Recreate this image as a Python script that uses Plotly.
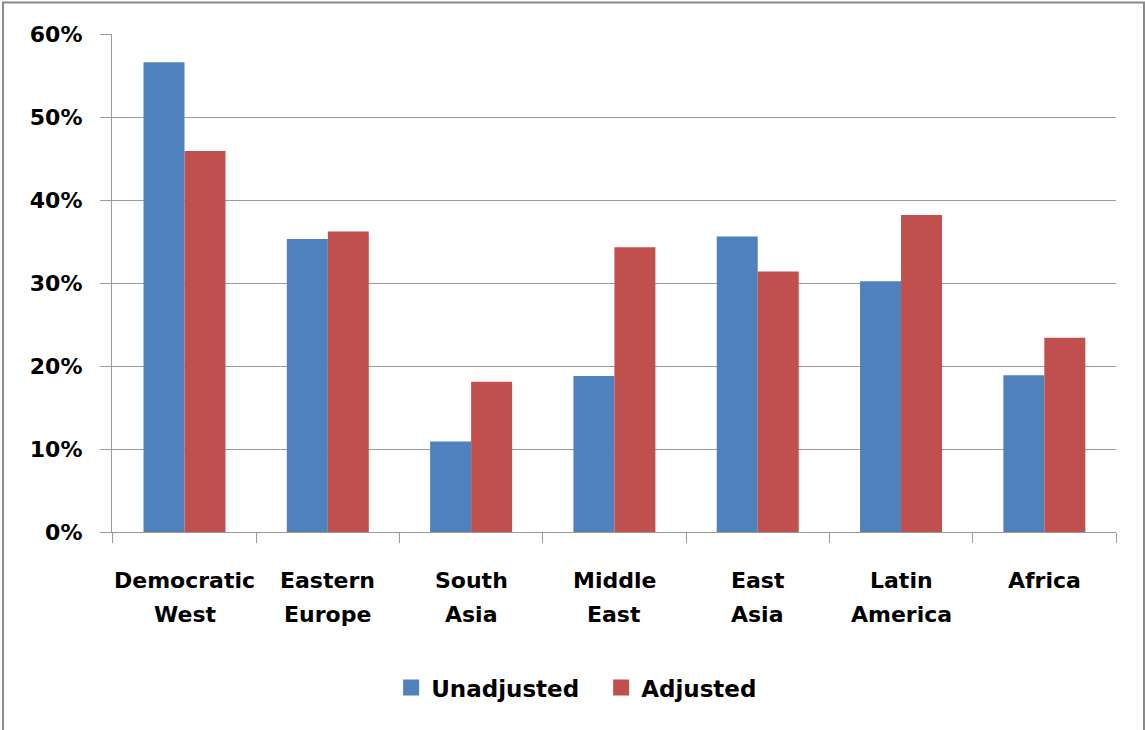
import plotly.graph_objects as go

# Regions and their two-line axis labels
categories = ["Democratic West", "Eastern Europe", "South Asia", "Middle East",
              "East Asia", "Latin America", "Africa"]
category_lines = [("Democratic", "West"), ("Eastern", "Europe"), ("South", "Asia"),
                  ("Middle", "East"), ("East", "Asia"), ("Latin", "America"), ("Africa",)]

# Shares per region (fractions)
series_names = ["Unadjusted", "Adjusted"]
unadjusted = [0.566, 0.353, 0.109, 0.188, 0.356, 0.302, 0.189]
adjusted = [0.459, 0.362, 0.181, 0.343, 0.314, 0.382, 0.234]

y_ticks = [0.0, 0.1, 0.2, 0.3, 0.4, 0.5, 0.6]
y_tick_labels = ["0%", "10%", "20%", "30%", "40%", "50%", "60%"]

COLORS = ["#4F81BD", "#C0504D"]
FONT = dict(family="DejaVu Sans", size=22, color="#000000", weight="bold")
GRAY = "#9a9a9a"

fig = go.Figure()
for name, values, color in zip(series_names, [unadjusted, adjusted], COLORS):
    fig.add_trace(go.Bar(name=name, x=categories, y=values, legendgroup=name,
                         showlegend=False, marker=dict(color=color, line=dict(width=0))))
# Square legend keys
for name, color in zip(series_names, COLORS):
    fig.add_trace(go.Scatter(name=name, x=[None], y=[None], mode="markers",
                             legendgroup=name, showlegend=True,
                             marker=dict(symbol="square", size=18, color=color)))

# Category labels, one annotation per text line
annotations = []
line_y = [-0.097, -0.166]
for cat, lines in zip(categories, category_lines):
    for i, txt in enumerate(lines):
        annotations.append(dict(x=cat, y=line_y[i], xref="x", yref="paper",
                                text=txt, showarrow=False, font=FONT,
                                xanchor="center", yanchor="middle"))

fig.update_layout(
    width=1145, height=730,
    margin=dict(l=112, r=29, t=33.5, b=197.7),
    paper_bgcolor="white", plot_bgcolor="white",
    barmode="group", bargap=0.428, bargroupgap=0,
    font=FONT,
    showlegend=True,
    legend=dict(orientation="h", x=0.525, xanchor="center", xref="container",
                y=0.058, yanchor="middle", yref="container",
                font=dict(family="DejaVu Sans", size=23, color="#000000", weight="bold"),
                entrywidth=165, traceorder="normal", itemsizing="trace"),
    annotations=annotations,
    shapes=[dict(type="rect", xref="paper", yref="paper",
                 x0=-0.1086, x1=1.0279, y0=-0.5, y1=1.0632,
                 line=dict(color="#8a8a8a", width=2), fillcolor="rgba(0,0,0,0)",
                 layer="below")],
)

fig.update_xaxes(
    type="category", showline=True, linecolor=GRAY, linewidth=1.3,
    ticks="outside", tickson="boundaries", ticklen=10, tickcolor=GRAY, tickwidth=1.3,
    showticklabels=False, showgrid=False, zeroline=False,
)
fig.update_yaxes(
    range=[0, 0.6], tickvals=y_ticks, ticktext=y_tick_labels,
    showline=True, linecolor=GRAY, linewidth=1.3,
    ticks="outside", ticklen=11, tickcolor=GRAY, tickwidth=1.3,
    showgrid=True, gridcolor=GRAY, gridwidth=1.3, zeroline=False,
    tickfont=FONT, ticklabelstandoff=13,
)

fig.write_html("out.html")
